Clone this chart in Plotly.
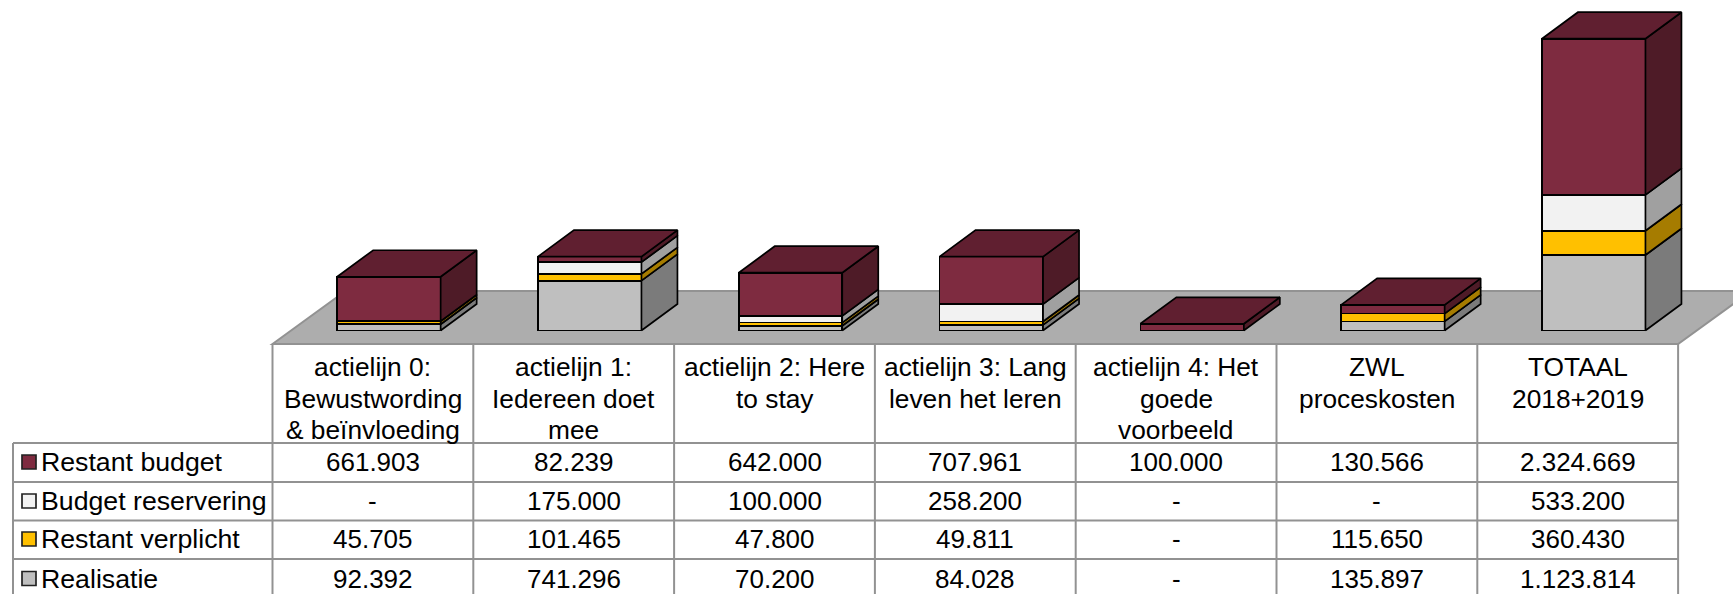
import plotly.graph_objects as go

categories = ["actielijn 0:<br>Bewustwording<br>& beïnvloeding", "actielijn 1:<br>Iedereen doet<br>mee",
              "actielijn 2: Here<br>to stay", "actielijn 3: Lang<br>leven het leren",
              "actielijn 4: Het<br>goede<br>voorbeeld", "ZWL<br>proceskosten", "TOTAAL<br>2018+2019"]
restant_budget = [661903, 82239, 642000, 707961, 100000, 130566, 2324669]
budget_reservering = [0, 175000, 100000, 258200, 0, 0, 533200]
restant_verplicht = [45705, 101465, 47800, 49811, 0, 115650, 360430]
realisatie = [92392, 741296, 70200, 84028, 0, 135897, 1123814]
series_names = ["Restant budget", "Budget reservering", "Restant verplicht", "Realisatie"]
series_values = [restant_budget, budget_reservering, restant_verplicht, realisatie]
front_colors = ["#7E2B40", "#F2F2F2", "#FFC000", "#BFBFBF"]
side_colors = ["#4E1B27", "#A0A0A0", "#A67C00", "#7B7B7B"]
top_color = "#601F30"

W, H = 1733, 594
X0, COL = 272.5, 200.8          # table left edge and column width (px)
Y0, PX_PER = 330.5, 6.72e-5     # bar baseline (px) and px per unit
DX_PX, DY_PX = 36.0, 26.5       # depth of a bar
BAR_PX = 103.5
BAR_SHIFT_PX = -2.0
GRID = "#929292"
FONT = "Liberation Sans"
ROWS = [344, 443, 482, 520.5, 559, 600]
LEFT = 13

xr = [(0 - X0) / COL, (W - X0) / COL]
yr = [-(H - Y0) / PX_PER, Y0 / PX_PER]
dx, dy = DX_PX / COL, DY_PX / PX_PER
bw = BAR_PX / COL
n = len(categories)
centers = [i + 0.5 + dx / 2 + BAR_SHIFT_PX / COL for i in range(n)]


def px(x):
    return x / W


def py(y):
    return 1 - y / H


fig = go.Figure()

# stacked fronts, bottom series first
for k in range(3, -1, -1):
    fig.add_trace(go.Bar(x=centers, y=[v if v else None for v in series_values[k]], width=bw,
                         name=series_names[k], showlegend=False, hoverinfo="skip",
                         marker=dict(color=front_colors[k], line=dict(color="#000000", width=1.7))))

# side and top faces derived from the stacks
base = [0] * n
for k in range(3, -1, -1):
    sx, sy = [], []
    for i in range(n):
        v = series_values[k][i]
        if not v:
            continue
        r = centers[i] + bw / 2
        b, t = base[i], base[i] + v
        sx += [r, r + dx, r + dx, r, r, None]
        sy += [b, b + dy, t + dy, t, b, None]
        base[i] = t
    fig.add_trace(go.Scatter(x=sx, y=sy, mode="lines", fill="toself", fillcolor=side_colors[k],
                             line=dict(color="#000000", width=1.7), showlegend=False, hoverinfo="skip"))
tx, ty = [], []
for i in range(n):
    l, r = centers[i] - bw / 2, centers[i] + bw / 2
    t = base[i]
    tx += [l, l + dx, r + dx, r, l, None]
    ty += [t, t + dy, t + dy, t, t, None]
fig.add_trace(go.Scatter(x=tx, y=ty, mode="lines", fill="toself", fillcolor=top_color,
                         line=dict(color="#000000", width=1.7), showlegend=False, hoverinfo="skip"))

shapes = []
# floor
fy_front = -(ROWS[0] - Y0) / PX_PER
fy_back = fy_front + 53 / PX_PER
fdx = 53 * 36.5 / DY_PX / COL
shapes.append(dict(type="path", xref="x", yref="y", layer="below",
                   path=f"M 0 {fy_front} L {fdx} {fy_back} L {n + fdx} {fy_back} L {n} {fy_front} Z",
                   fillcolor="#ADADAD", line=dict(color=GRID, width=2)))


def line(x1, y1, x2, y2):
    shapes.append(dict(type="line", xref="paper", yref="paper", x0=px(x1), y0=py(y1), x1=px(x2), y1=py(y2),
                       line=dict(color=GRID, width=2)))


for i in range(n + 1):
    line(X0 + i * COL, ROWS[0], X0 + i * COL, ROWS[-1])
line(LEFT, ROWS[1], LEFT, ROWS[-1])
line(X0, ROWS[0], X0 + n * COL, ROWS[0])
for y in ROWS[1:-1]:
    line(LEFT, y, X0 + n * COL, y)

annotations = []


def text(x, y, s, size, anchor="center"):
    annotations.append(dict(xref="paper", yref="paper", x=px(x), y=py(y), text=s, showarrow=False,
                            xanchor=anchor, yanchor="middle", align="center",
                            font=dict(family=FONT, size=size, color="#000000"),
                            borderpad=0, borderwidth=0))


LINE_H = 31.5
for i, c in enumerate(categories):
    for j, part in enumerate(c.split("<br>")):
        text(X0 + (i + 0.5) * COL, 367 + j * LINE_H, part, 26.3)

ROW_Y = [462, 501, 539, 578.5]
for k, name in enumerate(series_names):
    yc = ROW_Y[k]
    shapes.append(dict(type="rect", xref="paper", yref="paper", x0=px(22), x1=px(36), y0=py(yc - 7), y1=py(yc + 7),
                       fillcolor=front_colors[k], line=dict(color="#222222", width=1.7)))
    text(41, yc, name, 26.7, "left")
    for i, v in enumerate(series_values[k]):
        text(X0 + (i + 0.5) * COL, yc, f"{v:,}".replace(",", ".") if v else "-", 26)

fig.update_layout(
    width=W, height=H, autosize=False, margin=dict(l=0, r=0, t=0, b=0),
    paper_bgcolor="white", plot_bgcolor="white", barmode="stack", showlegend=False,
    xaxis=dict(range=xr, visible=False, fixedrange=True),
    yaxis=dict(range=yr, visible=False, fixedrange=True),
    shapes=shapes, annotations=annotations,
)
fig.write_html("out.html", config={"displayModeBar": False},
               post_script="document.body.style.margin='0';document.body.style.overflow='hidden';")
